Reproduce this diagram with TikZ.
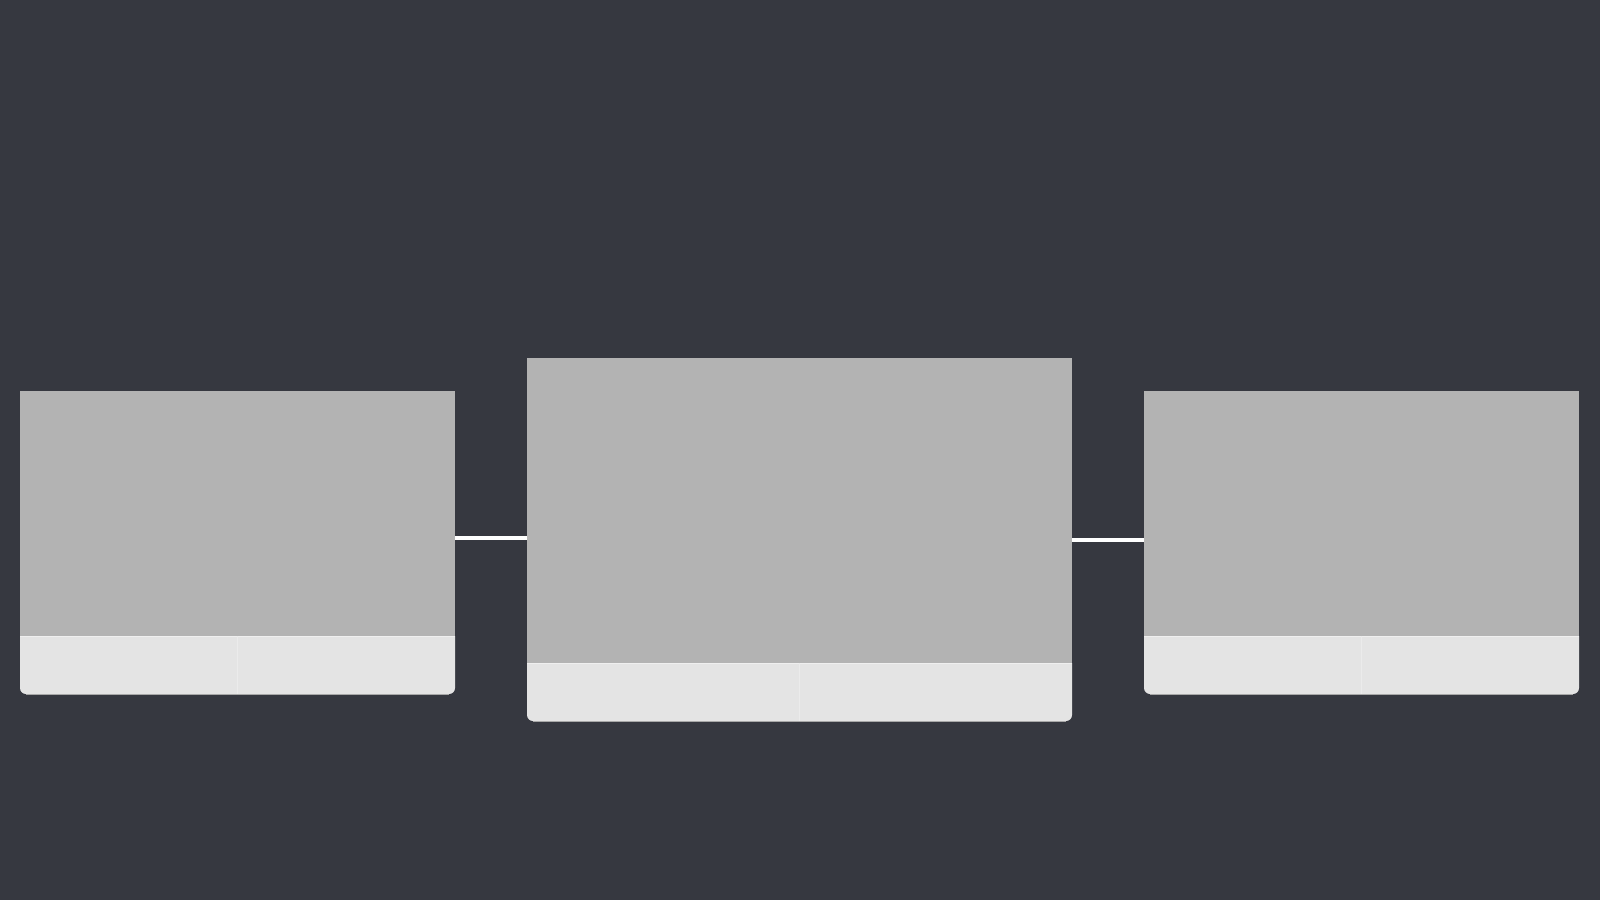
\documentclass[tikz,border=0pt]{standalone}
\definecolor{bg}{HTML}{363840}
\definecolor{imgray}{HTML}{B3B3B3}
\definecolor{caplight}{HTML}{E4E4E4}
\definecolor{capedge}{HTML}{A8A8A8}
\tikzset{
  cardbox/.style={inner sep=0pt, outer sep=0pt, minimum width=#1},
  link/.style={draw=white, line width=3.5pt},
}
\newcommand{\mycard}[6]{%
  % #1 name, #2 left, #3 top, #4 right, #5 split, #6 bottom
  \fill[caplight] (#2,#5) [rounded corners=6pt] -- (#2,#6) -- (#4,#6) [sharp corners] -- (#4,#5) -- cycle;
  \draw[capedge, line width=0.8pt] (#2+6,#6) -- (#4-6,#6);
  \fill[imgray] (#2,#3) rectangle (#4,#5);
  \draw[white!40!caplight, line width=0.6pt] (#2,#5) -- (#4,#5);
  \draw[white!25!caplight, line width=0.4pt] ({(#2+#4)/2},#5) -- ({(#2+#4)/2},#6);
  \path ({(#2+#4)/2},{(#3+#6)/2}) node[cardbox={(#4-#2)*1pt}, minimum height={(#6-#3)*1pt}] (#1) {};
}
\begin{document}
\begin{tikzpicture}[x=1pt, y=-1pt]
  \fill[bg] (0,0) rectangle (1600,900);
  \useasboundingbox (0,0) rectangle (1600,900);
  \mycard{left}{20}{391}{455}{636}{694}
  \mycard{mid}{527}{358}{1072}{663}{721}
  \mycard{right}{1144}{391}{1579}{636}{694}
  \coordinate (la) at (0,538);
  \coordinate (ra) at (0,540);
  \draw[link] (left.east |- la) -- (mid.west |- la);
  \draw[link] (mid.east |- ra) -- (right.west |- ra);
\end{tikzpicture}
\end{document}
